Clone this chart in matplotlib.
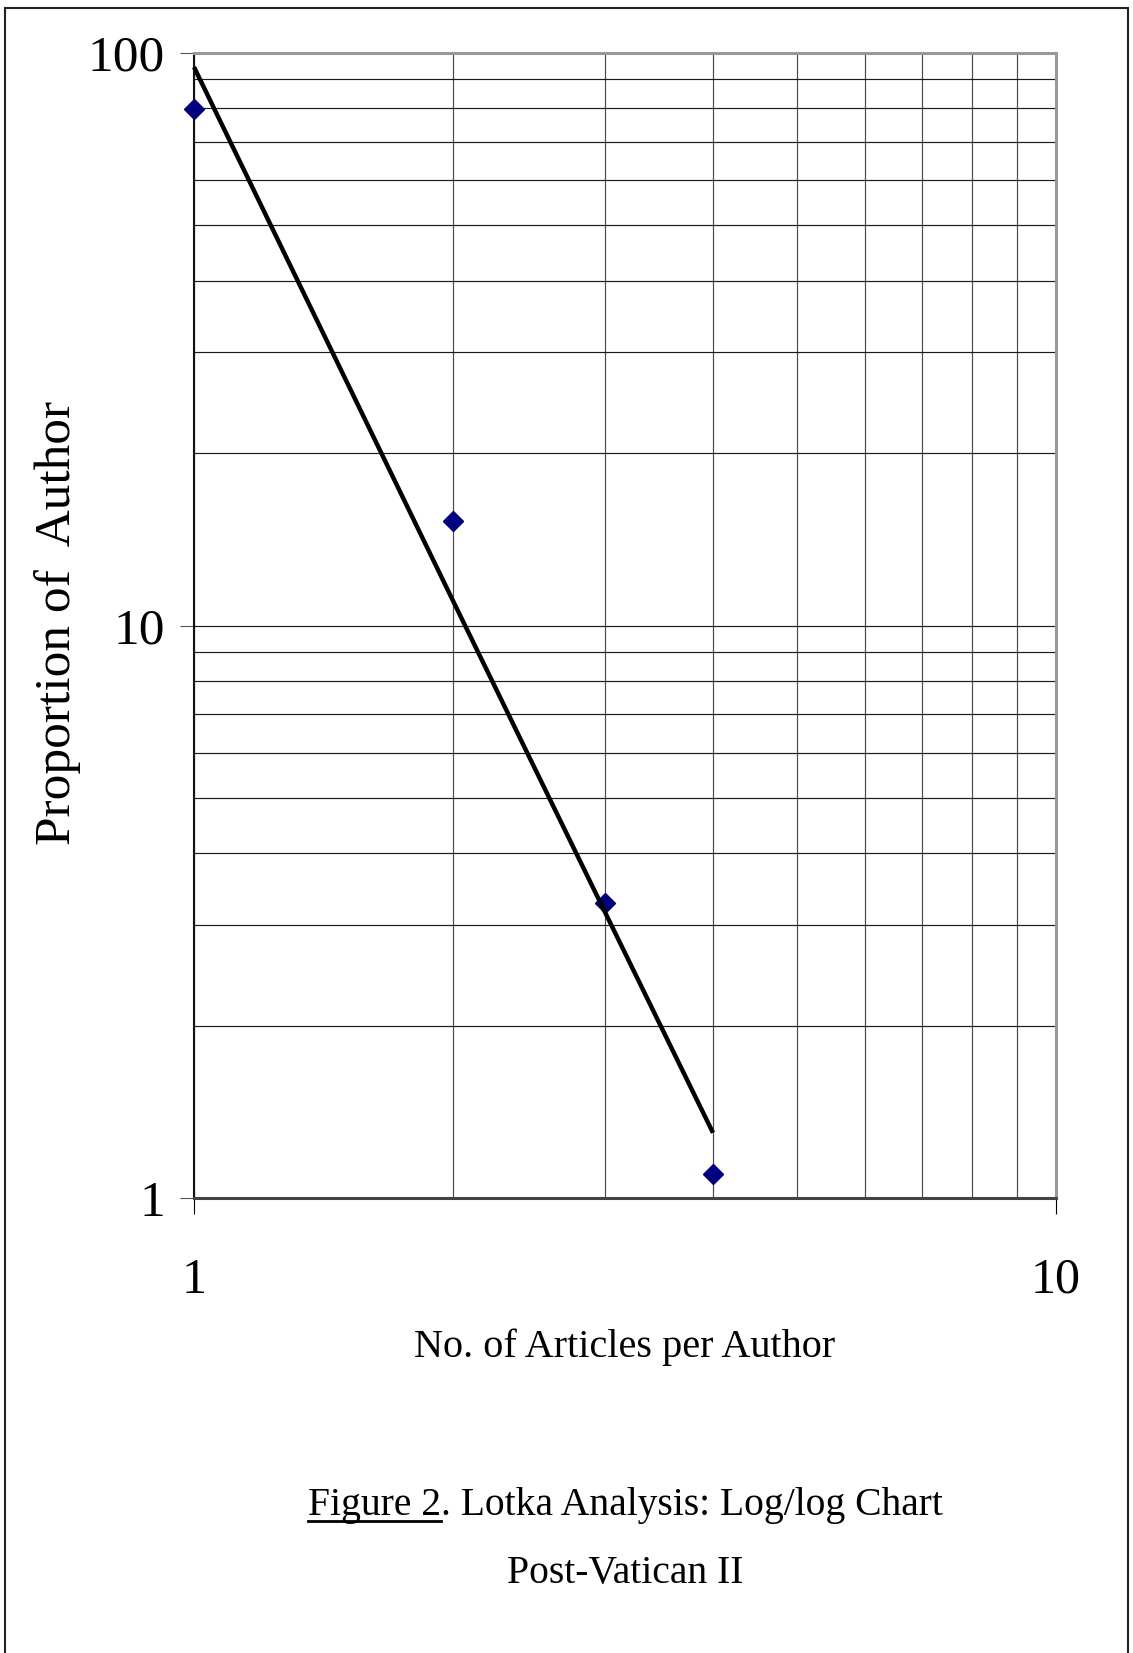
import matplotlib
matplotlib.use('Agg')
import matplotlib.pyplot as plt
from matplotlib.lines import Line2D
from matplotlib.patches import Rectangle
from matplotlib.ticker import LogLocator, FixedLocator, FixedFormatter, NullFormatter

# ---- data ----
articles = [1, 2, 3, 4]
proportion = [79.9, 15.2, 3.28, 1.10]
fit_x = [1, 2, 3, 4]
fit_y = [94.5, 11.0, 3.15, 1.30]
x_ticks = [1, 10]
x_tick_labels = ['1', '10']
y_ticks = [1, 10, 100]
y_tick_labels = ['1', '10', '100']
x_label = 'No. of Articles per Author'
y_label = 'Proportion of  Author'
caption_1 = 'Figure 2. Lotka Analysis: Log/log Chart'
caption_1_underlined = 'Figure 2'
caption_2 = 'Post-Vatican II'

plt.rcParams['font.family'] = ['Liberation Serif', 'DejaVu Serif']

W, H = 1133, 1653
fig = plt.figure(figsize=(W / 100, H / 100), dpi=100)
fig.patch.set_facecolor('white')

left, right, top, bottom = 194, 1056, 53, 1198
ax = fig.add_axes([left / W, 1 - bottom / H, (right - left) / W, (bottom - top) / H])

ax.set_xscale('log')
ax.set_yscale('log')
ax.set_xlim(1, 10)
ax.set_ylim(1, 100)

ax.xaxis.set_major_locator(FixedLocator(x_ticks))
ax.xaxis.set_major_formatter(FixedFormatter(x_tick_labels))
ax.yaxis.set_major_locator(FixedLocator(y_ticks))
ax.yaxis.set_major_formatter(FixedFormatter(y_tick_labels))
ax.xaxis.set_minor_locator(LogLocator(base=10, subs=range(2, 10)))
ax.yaxis.set_minor_locator(LogLocator(base=10, subs=range(2, 10)))
ax.xaxis.set_minor_formatter(NullFormatter())
ax.yaxis.set_minor_formatter(NullFormatter())

ax.xaxis.grid(True, which='both', color='#4a4a4a', linewidth=0.85, zorder=0)
ax.yaxis.grid(True, which='both', color='#1a1a1a', linewidth=0.85, zorder=0)
ax.set_axisbelow(True)

ax.tick_params(axis='x', which='major', length=11.5, width=0.8, color='black',
               pad=31, labelsize=36, direction='out')
ax.tick_params(axis='y', which='major', length=10, width=0.8, color='#555555',
               pad=11, labelsize=37, direction='out')
ax.tick_params(which='minor', length=0)

for side, col, lw in [('left', '#111111', 1.5), ('bottom', '#444444', 2.2),
                      ('top', '#999999', 2.2), ('right', '#999999', 2.2)]:
    ax.spines[side].set_color(col)
    ax.spines[side].set_linewidth(lw)

ax.plot(articles, proportion, linestyle='none', marker='D', markersize=10.5,
        color='#000080', markeredgecolor='#000080', zorder=3, clip_on=False)
ax.plot(fit_x, fit_y, color='black', linewidth=3.2, zorder=4,
        solid_capstyle='butt', clip_on=False)

ax.set_xlabel(x_label, fontsize=29, va='center')
ax.xaxis.set_label_coords(0.5, (bottom - 1347) / (bottom - top))
ax.set_ylabel(y_label, fontsize=37, va='center')
ax.yaxis.set_label_coords((58 - left) / (right - left), (bottom - 623) / (bottom - top))

# caption
cap_fs = 28.5
cx = 625 / W
t1 = fig.text(cx, 1 - 1505 / H, caption_1, fontsize=cap_fs, ha='center', va='center')
fig.text(cx, 1 - 1573 / H, caption_2, fontsize=cap_fs, ha='center', va='center')

fig.canvas.draw()
renderer = fig.canvas.get_renderer()
bb = t1.get_window_extent(renderer)
probe = fig.text(0, 0, caption_1_underlined, fontsize=cap_fs)
pw = probe.get_window_extent(renderer).width
probe.remove()
uy = H - 1521
fig.add_artist(Line2D([bb.x0, bb.x0 + pw], [uy, uy], transform=None,
                      color='black', linewidth=2.0))

# outer frame
frame = Rectangle((5 / W, -0.02), (1128 - 5) / W, 1.02 - 8 / H,
                  transform=fig.transFigure, fill=False, edgecolor='#222222',
                  linewidth=1.5, clip_on=False)
fig.add_artist(frame)

fig.savefig('out.png', dpi=100, facecolor='white')
